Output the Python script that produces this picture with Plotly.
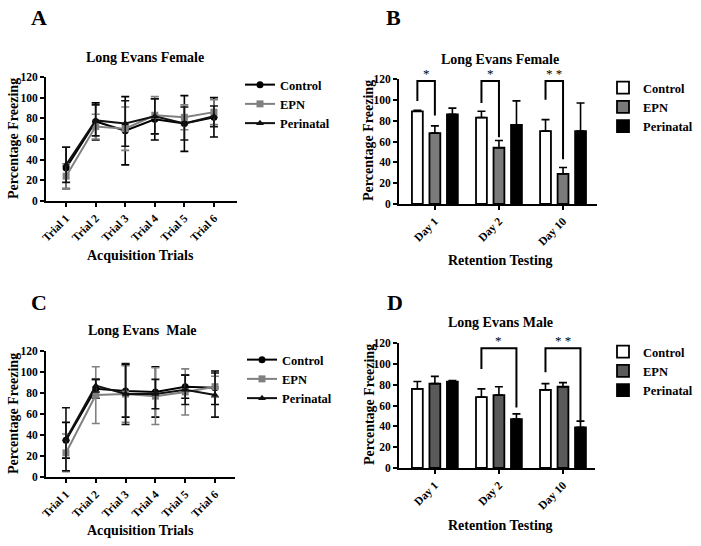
import plotly.graph_objects as go

FONT = "Liberation Serif"

trials = ["Trial 1", "Trial 2", "Trial 3", "Trial 4", "Trial 5", "Trial 6"]
days = ["Day 1", "Day 2", "Day 10"]
groups = ["Control", "EPN", "Perinatal"]

# Panel A: Long Evans Female acquisition
fa_control = [32, 77, 68, 79, 75, 81]
fa_control_err = [20, 18, 33, 20, 27, 19]
fa_epn = [24, 72, 70, 83, 81, 86]
fa_epn_err = [12, 12, 21, 18, 12, 12]
fa_peri = [35, 78, 75, 82, 75, 82]
fa_peri_err = [17, 15, 22, 17, 16, 10]

# Panel B: Long Evans Female retention
fr_control = [89, 83, 70]
fr_control_err = [1, 6, 11]
fr_epn = [68, 54, 29]
fr_epn_err = [7, 7, 6]
fr_peri = [86, 76, 70]
fr_peri_err = [6, 23, 27]

# Panel C: Long Evans Male acquisition
ma_control = [35, 84, 82, 81, 86, 85]
ma_control_err = [17, 9, 25, 24, 11, 16]
ma_epn = [23, 78, 79, 77, 81, 86]
ma_epn_err = [18, 27, 27, 27, 22, 10]
ma_peri = [36, 87, 79, 79, 83, 78]
ma_peri_err = [30, 6, 29, 14, 14, 21]

# Panel D: Long Evans Male retention
mr_control = [76, 68, 75]
mr_control_err = [7, 8, 6]
mr_epn = [81, 70, 78]
mr_epn_err = [7, 8, 4]
mr_peri = [83, 47, 39]
mr_peri_err = [1, 5, 6]

# significance brackets: (day index, group i, group j, top, left leg end, right leg end, label)
sig_b = [(0, 0, 1, 118, 99, 85, "*"), (1, 0, 1, 118, 97, 64, "*"), (2, 0, 1, 118, 100, 43, "* *")]
sig_d = [(1, 0, 2, 115, 95, 58, "*"), (2, 0, 2, 115, 92, 44, "* *")]

W, H = 701, 546
fig = go.Figure()

line_styles = [
    ("Control", "black", "circle"),
    ("EPN", "#808080", "square"),
    ("Perinatal", "#111111", "triangle-up"),
]

def add_lines(data, xa, ya, legend):
    for (name, color, sym), (vals, errs) in zip(line_styles, data):
        fig.add_trace(go.Scatter(
            x=trials, y=vals, name=name, mode="lines+markers",
            xaxis=xa, yaxis=ya, legend=legend,
            line=dict(color=color, width=2),
            marker=dict(color=color, symbol=sym, size=7),
            error_y=dict(type="data", array=errs, color=color, thickness=1.6, width=4),
        ))

bar_styles = [("Control", "white"), ("EPN", None), ("Perinatal", "black")]

def add_bars(data, xa, ya, legend, epn_color):
    for (name, fill), (vals, errs) in zip(bar_styles, data):
        fig.add_trace(go.Bar(
            x=list(range(len(days))), y=vals, name=name,
            xaxis=xa, yaxis=ya, legend=legend,
            marker=dict(color=fill if fill else epn_color, line=dict(color="black", width=1.8)),
            error_y=dict(type="data", symmetric=False, array=errs, arrayminus=[0] * len(errs),
                         color="black", thickness=1.6, width=4),
        ))

add_lines([(fa_control, fa_control_err), (fa_epn, fa_epn_err), (fa_peri, fa_peri_err)], "x", "y", "legend")
add_bars([(fr_control, fr_control_err), (fr_epn, fr_epn_err), (fr_peri, fr_peri_err)], "x2", "y2", "legend2", "#7a7a7a")
add_lines([(ma_control, ma_control_err), (ma_epn, ma_epn_err), (ma_peri, ma_peri_err)], "x3", "y3", "legend3")
add_bars([(mr_control, mr_control_err), (mr_epn, mr_epn_err), (mr_peri, mr_peri_err)], "x4", "y4", "legend4", "#5a5a5a")

BARGAP = 0.18
SLOT = (1 - BARGAP) / 3

def brackets(sigs, xref, yref):
    for d, gi, gj, top, lft, rgt, lab in sigs:
        x0 = d + (gi - 1) * SLOT
        x1 = d + (gj - 1) * SLOT
        fig.add_trace(go.Scatter(
            x=[x0, x0, x1, x1], y=[lft, top, top, rgt], mode="lines",
            xaxis=xref, yaxis=yref, showlegend=False, hoverinfo="skip",
            line=dict(color="black", width=2),
        ))
        fig.add_annotation(x=(x0 + x1) / 2, y=top, xref=xref, yref=yref, text=lab,
                           showarrow=False, yanchor="bottom", yshift=-2,
                           font=dict(family=FONT, size=13, color="#000000"))

brackets(sig_b, "x2", "y2")
brackets(sig_d, "x4", "y4")

def px_dom(a, b, total):
    return [a / total, b / total]

def ydom(bottom_px, top_px):
    return [1 - bottom_px / H, 1 - top_px / H]

tickfont = dict(family=FONT, size=11.5, color="black", weight="bold")
axis_common = dict(showline=True, linecolor="black", linewidth=2, ticks="outside",
                   tickcolor="black", tickwidth=2, ticklen=4, showgrid=False,
                   zeroline=False, tickfont=tickfont, automargin=False)

yaxis_common = dict(axis_common, range=[0, 120], tickvals=[0, 20, 40, 60, 80, 100, 120])

layout = dict(
    template="none",
    width=W, height=H, margin=dict(l=0, r=0, t=0, b=0),
    paper_bgcolor="white", plot_bgcolor="white",
    barmode="group", bargap=BARGAP, bargroupgap=0.38,
    font=dict(family=FONT, color="black"),
    hovermode=False,
    xaxis=dict(axis_common, domain=px_dom(46, 237, W), range=[-0.68, 5.78], anchor="y",
               tickangle=-45, type="category"),
    yaxis=dict(yaxis_common, domain=ydom(201, 77), anchor="x"),
    xaxis2=dict(axis_common, domain=px_dom(399, 597, W), range=[-0.56, 2.53], anchor="y2",
                tickangle=-45, tickvals=list(range(len(days))), ticktext=days),
    yaxis2=dict(yaxis_common, domain=ydom(204, 79), anchor="x2"),
    xaxis3=dict(axis_common, domain=px_dom(46, 235, W), range=[-0.67, 5.67], anchor="y3",
                tickangle=-45, type="category"),
    yaxis3=dict(yaxis_common, domain=ydom(477, 351), anchor="x3"),
    xaxis4=dict(axis_common, domain=px_dom(399, 595, W), range=[-0.56, 2.5], anchor="y4",
                tickangle=-45, tickvals=list(range(len(days))), ticktext=days),
    yaxis4=dict(yaxis_common, domain=ydom(468, 343), anchor="x4"),
)

legfont = dict(family=FONT, size=12.5, color="black", weight="bold")
def leg(x_px, y_px):
    return dict(x=x_px / W, y=1 - y_px / H, xanchor="left", yanchor="top",
                font=legfont, bgcolor="rgba(0,0,0,0)", tracegroupgap=0,
                itemwidth=30, traceorder="normal", borderwidth=0)

layout["legend"] = leg(240, 70)
layout["legend2"] = leg(603, 73)
layout["legend3"] = leg(242, 345)
layout["legend4"] = leg(603, 337)

fig.update_layout(**layout)

def ann(text, x, y, size, angle=0, xanchor="center"):
    fig.add_annotation(text=text, x=x / W, y=1 - y / H, xref="paper", yref="paper",
                       showarrow=False, textangle=angle, xanchor=xanchor, yanchor="middle",
                       font=dict(family=FONT, size=size, color="black"))

# panel letters
ann("<b>A</b>", 39, 18, 22)
ann("<b>B</b>", 393, 18, 22)
ann("<b>C</b>", 39, 302, 22)
ann("<b>D</b>", 395, 302, 22)
# titles
ann("<b>Long Evans Female</b>", 145, 58, 14)
ann("<b>Long Evans Female</b>", 500, 59, 14)
ann("<b>Long Evans  Male</b>", 142, 330, 14)
ann("<b>Long Evans Male</b>", 500, 322, 14)
# x titles
ann("<b>Acquisition Trials</b>", 140, 255, 14)
ann("<b>Retention Testing</b>", 500, 260, 14)
ann("<b>Acquisition Trials</b>", 140, 530, 14)
ann("<b>Retention Testing</b>", 500, 525, 14)
# y titles
ann("<b>Percentage Freezing</b>", 13, 139, 14, angle=-90)
ann("<b>Percentage Freezing</b>", 369, 141, 14, angle=-90)
ann("<b>Percentage Freezing</b>", 13, 414, 14, angle=-90)
ann("<b>Percentage Freezing</b>", 369, 405, 14, angle=-90)

fig.write_html("out.html", config={"displayModeBar": False, "staticPlot": True},
               post_script="document.body.style.margin='0';document.body.style.overflow='hidden';")
